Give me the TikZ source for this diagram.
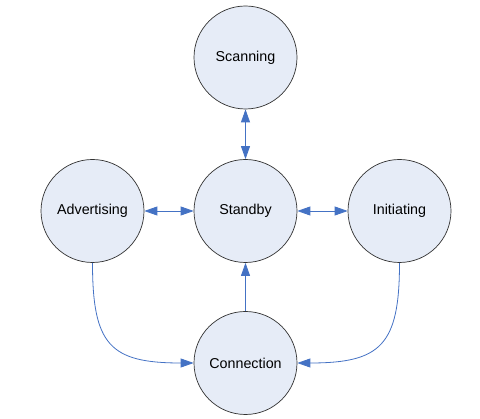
\documentclass[tikz,border=0pt]{standalone}
\usepackage{fontspec}
\setmainfont{Liberation Sans}
\usetikzlibrary{arrows.meta}
\definecolor{stfill}{RGB}{230,236,247}
\definecolor{arr}{RGB}{68,114,196}
\tikzset{
  state/.style={circle, draw=black!80, line width=0.7pt, fill=stfill, minimum size=103pt, inner sep=0pt, font=\fontsize{14.3}{16}\selectfont},
  conn/.style={draw=arr, line width=0.8pt, -{Triangle[length=13pt,width=9pt]}},
  bconn/.style={draw=arr, line width=0.8pt, {Triangle[length=13pt,width=9pt]}-{Triangle[length=13pt,width=9pt]}}
}
\begin{document}
\begin{tikzpicture}[x=1pt,y=-1pt]
\useasboundingbox (0,0) rectangle (480,419);
\node[state] (scan) at (245.5,57.5) {Scanning};
\node[state] (stby) at (245.5,211) {Standby};
\node[state] (adv) at (92.5,211) {Advertising};
\node[state] (init) at (399.5,211) {Initiating};
\node[state] (conn) at (245.5,363) {Connection};
\draw[bconn] (scan) -- (stby);
\draw[bconn] (adv) -- (stby);
\draw[bconn] (stby) -- (init);
\draw[conn] (conn) -- (stby);
\draw[conn] (adv.south) .. controls (92.5,345) and (110,363) .. (conn.west);
\draw[conn] (init.south) .. controls (399.5,345) and (381,363) .. (conn.east);
\end{tikzpicture}
\end{document}
